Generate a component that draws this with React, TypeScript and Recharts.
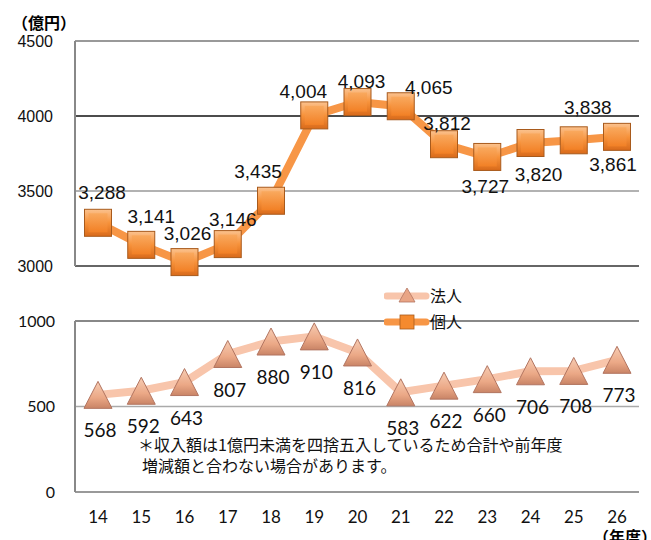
import React from "react";
import {
  LineChart,
  Line,
  XAxis,
  YAxis,
  ReferenceLine,
  Legend,
} from "recharts";

// fiscal years (平成)
const years = ["14", "15", "16", "17", "18", "19", "20", "21", "22", "23", "24", "25", "26"];
// 個人 (億円)
const kojin = [3288, 3141, 3026, 3146, 3435, 4004, 4093, 4065, 3812, 3727, 3820, 3838, 3861];
// 法人 (億円)
const houjin = [568, 592, 643, 807, 880, 910, 816, 583, 622, 660, 706, 708, 773];

const topTicks = [3000, 3500, 4000, 4500];
const bottomTicks = [0, 500, 1000];

const data = years.map((y, i) => ({ year: y, kojin: kojin[i], houjin: houjin[i] }));

// where each 個人 label sits relative to its marker
const topLabelOffsets: [number, number][] = [
  [4, -30], [10, -28], [3, -29], [5, -25], [-13, -29], [-11, -24], [4, -21],
  [28, -19], [3, -21], [-2, 30], [8, 31], [14, -33], [-4, 28],
];

const JP = '"Noto Sans CJK JP", "Noto Sans", sans-serif';
const ARIAL = '"Liberation Sans", Arial, sans-serif';
const CAL = 'Lato, "Open Sans", sans-serif';

const SquareDot = (props: any) => {
  const { cx, cy, index, value } = props;
  if (cx == null || cy == null) return <g key={`sq-${index}`} />;
  const s = 27;
  const [dx, dy] = topLabelOffsets[index] || [0, -28];
  return (
    <g key={`sq-${index}`}>
      <rect x={cx - s / 2} y={cy - s / 2} width={s} height={s} fill="url(#sqGrad)" stroke="#A85A1C" strokeWidth={1} />
      <rect x={cx - s / 2 + 4} y={cy - s / 2 + 4} width={s - 8} height={s - 8} fill="url(#sqInner)" />
      <text
        x={cx + dx}
        y={cy + dy}
        textAnchor="middle"
        dominantBaseline="central"
        fontFamily={ARIAL}
        fontSize={19}
        fill="#111"
      >
        {Number(value).toLocaleString("en-US")}
      </text>
    </g>
  );
};

const TriDot = (props: any) => {
  const { cx, cy, index, value } = props;
  if (cx == null || cy == null) return <g key={`tri-${index}`} />;
  const w = 28;
  const h = 27;
  return (
    <g key={`tri-${index}`}>
      <polygon
        points={`${cx},${cy - h / 2} ${cx + w / 2},${cy + h / 2} ${cx - w / 2},${cy + h / 2}`}
        fill="url(#triGrad)"
        stroke="#B27561"
        strokeWidth={1}
      />
      <text
        x={cx + 2}
        y={cy + 35}
        textAnchor="middle"
        dominantBaseline="central"
        fontFamily={CAL}
        fontSize={19}
        fill="#111"
      >
        {value}
      </text>
    </g>
  );
};

const renderLegend = () => (
  <div style={{ fontFamily: JP, fontSize: 16, color: "#111" }}>
    <div style={{ display: "flex", alignItems: "center", height: 26 }}>
      <svg width={46} height={20}>
        <line x1={3} y1={11} x2={42} y2={11} stroke="#F8C5AB" strokeWidth={7} strokeLinecap="round" />
        <polygon points="23,3 31,17 15,17" fill="#E9A585" stroke="#B27561" strokeWidth={0.8} />
      </svg>
      <span>法人</span>
    </div>
    <div style={{ display: "flex", alignItems: "center", height: 26 }}>
      <svg width={46} height={20}>
        <line x1={3} y1={11} x2={42} y2={11} stroke="#F79646" strokeWidth={7} strokeLinecap="round" />
        <rect x={16} y={4} width={14} height={14} fill="#F58A2E" stroke="#A85A1C" strokeWidth={0.8} />
      </svg>
      <span>個人</span>
    </div>
  </div>
);

export default function App() {
  return (
    <div style={{ position: "absolute", left: 0, top: 0, width: 651, height: 540, background: "#fff", overflow: "hidden" }}>
      <div style={{ position: "absolute", left: 12, top: 10, fontFamily: JP, fontSize: 16, fontWeight: 700 }}>（億円）</div>

      <div style={{ position: "absolute", left: 0, top: 0 }}>
        <LineChart width={651} height={280} data={data} margin={{ top: 41, right: 12, left: 0, bottom: 14 }}>
          <defs>
            <linearGradient id="sqGrad" x1="0" y1="0" x2="0" y2="1">
              <stop offset="0%" stopColor="#FBC28E" />
              <stop offset="50%" stopColor="#F7923A" />
              <stop offset="100%" stopColor="#D96A1A" />
            </linearGradient>
            <linearGradient id="sqInner" x1="0" y1="0" x2="0" y2="1">
              <stop offset="0%" stopColor="#F9A95E" />
              <stop offset="100%" stopColor="#F28025" />
            </linearGradient>
          </defs>
          <XAxis dataKey="year" hide padding={{ left: 23, right: 22 }} />
          <YAxis
            domain={[3000, 4500]}
            ticks={topTicks}
            width={75}
            axisLine={{ stroke: "#888", strokeWidth: 2 }}
            tickLine={false}
            tickSize={0}
            tickMargin={22}
            tick={{ fill: "#111", fontSize: 16, fontFamily: ARIAL }}
          />
          <ReferenceLine y={4500} stroke="#777" strokeWidth={1.5} />
          <ReferenceLine y={4000} stroke="#111" strokeWidth={1.5} />
          <ReferenceLine y={3500} stroke="#999" strokeWidth={1.5} />
          <ReferenceLine y={3000} stroke="#666" strokeWidth={2} />
          <Line
            dataKey="kojin"
            stroke="#F79646"
            strokeWidth={8}
            strokeLinejoin="round"
            dot={SquareDot}
            activeDot={false}
            isAnimationActive={false}
          />
        </LineChart>
      </div>

      <div style={{ position: "absolute", left: 0, top: 280 }}>
        <LineChart width={651} height={260} data={data} margin={{ top: 41, right: 12, left: 0, bottom: 18 }}>
          <defs>
            <linearGradient id="triGrad" x1="0" y1="0" x2="0" y2="1">
              <stop offset="0%" stopColor="#F7CDB4" />
              <stop offset="60%" stopColor="#EBA886" />
              <stop offset="100%" stopColor="#C98466" />
            </linearGradient>
          </defs>
          <XAxis
            dataKey="year"
            padding={{ left: 23, right: 22 }}
            axisLine={{ stroke: "#999", strokeWidth: 2 }}
            tickLine={false}
            tickSize={0}
            tickMargin={19}
            height={30}
            tick={{ fill: "#111", fontSize: 17, fontFamily: CAL }}
          />
          <YAxis
            domain={[0, 1000]}
            ticks={bottomTicks}
            width={75}
            axisLine={{ stroke: "#888", strokeWidth: 2 }}
            tickLine={false}
            tickSize={0}
            tickMargin={20}
            tick={{ fill: "#111", fontSize: 16, fontFamily: CAL }}
          />
          <ReferenceLine y={1000} stroke="#888" strokeWidth={2} />
          <ReferenceLine y={500} stroke="#aaa" strokeWidth={1.5} />
          <Line
            dataKey="houjin"
            stroke="#F8C5AB"
            strokeWidth={8}
            strokeLinejoin="round"
            dot={TriDot}
            activeDot={false}
            isAnimationActive={false}
          />
          <Legend
            layout="horizontal"
            verticalAlign="middle"
            align="center"
            content={renderLegend}
            wrapperStyle={{ position: "absolute", left: 384, top: 2, width: 110, height: 52 }}
          />
        </LineChart>
      </div>

      <div style={{ position: "absolute", left: 138, top: 434, fontFamily: JP, fontSize: 16, lineHeight: "21px", color: "#111" }}>
        <div>＊収入額は1億円未満を四捨五入しているため合計や前年度</div>
        <div style={{ paddingLeft: 4 }}>増減額と合わない場合があります。</div>
      </div>

      <div style={{ position: "absolute", left: 593, top: 524, fontFamily: JP, fontSize: 16, fontWeight: 700 }}>（年度）</div>
    </div>
  );
}
